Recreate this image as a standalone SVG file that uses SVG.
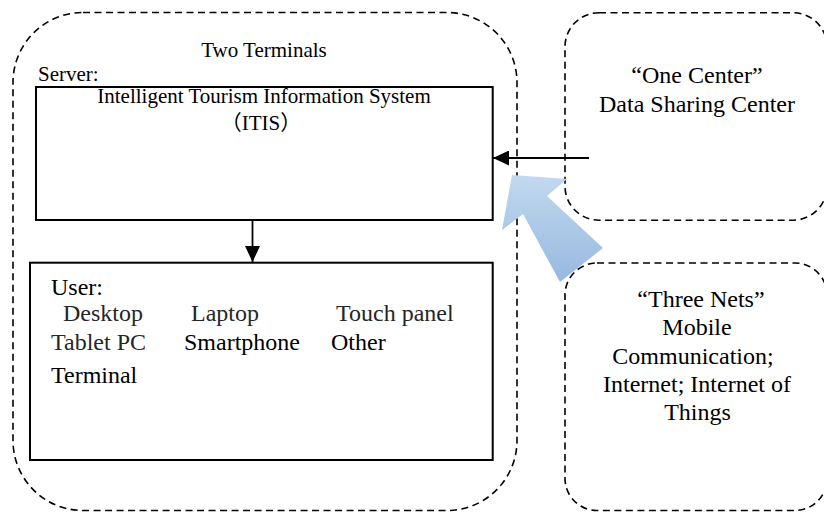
<svg xmlns="http://www.w3.org/2000/svg" width="824" height="514" viewBox="0 0 824 514">
  <style>
    .dash { fill: none; stroke: #000; stroke-width: 1.6; stroke-dasharray: 7 4.5; }
    .box { fill: #fff; stroke: #000; stroke-width: 2; }
    .t { font-family: "Liberation Serif", "Times New Roman", "Noto Sans CJK SC", serif; fill: #000; }
    .s21 { font-size: 21px; }
    .s24 { font-size: 24px; }
    .g { fill: #262626; }
    .conn { stroke: #000; stroke-width: 1.8; fill: none; }
  </style>
  <defs>
    <marker id="ah" viewBox="0 0 16 15" refX="16" refY="7.5" markerWidth="16" markerHeight="15" markerUnits="userSpaceOnUse" orient="auto">
      <path d="M0,0 L16,7.5 L0,15 Z" fill="#000"/>
    </marker>
    <linearGradient id="blue" x1="0" y1="0" x2="0" y2="1">
      <stop offset="0" stop-color="#c2d9ef"/>
      <stop offset="1" stop-color="#97b8df"/>
    </linearGradient>
  </defs>
  <rect width="824" height="514" fill="#fff"/>

  <g id="two-terminals">
    <rect class="dash" x="13" y="12.5" width="504" height="498" rx="70" ry="70"/>
    <text class="t s21" x="264" y="57" text-anchor="middle">Two Terminals</text>
  </g>

  <g id="server">
    <text class="t s21" x="38" y="81">Server:</text>
    <rect class="box" x="36" y="87" width="456.7" height="133"/>
    <text class="t s21" x="264" y="103" text-anchor="middle">Intelligent Tourism Information System</text>
    <text class="t s21" x="261" y="130" text-anchor="middle">（ITIS）</text>
  </g>

  <g id="user">
    <rect class="box" x="30" y="262.7" width="462.7" height="197.3"/>
    <text class="t s24" x="51" y="295">User:</text>
    <text class="t s24 g" x="63" y="321">Desktop</text>
    <text class="t s24 g" x="191" y="321">Laptop</text>
    <text class="t s24 g" x="336" y="321">Touch panel</text>
    <text class="t s24 g" x="51" y="349.5">Tablet PC</text>
    <text class="t s24" x="184" y="349.5">Smartphone</text>
    <text class="t s24" x="331" y="349.5">Other</text>
    <text class="t s24" x="51" y="382.5">Terminal</text>
  </g>

  <g id="one-center">
    <rect class="dash" x="565" y="12.7" width="262" height="207.5" rx="34" ry="34"/>
    <text class="t s24" x="697" y="82.7" text-anchor="middle">“One Center”</text>
    <text class="t s24" x="697" y="111.7" text-anchor="middle">Data Sharing Center</text>
  </g>

  <g id="three-nets">
    <rect class="dash" x="565" y="263" width="262" height="247.5" rx="32" ry="32"/>
    <text class="t s24" x="701" y="306.7" text-anchor="middle">“Three Nets”</text>
    <text class="t s24" x="697" y="335" text-anchor="middle">Mobile</text>
    <text class="t s24" x="693" y="364" text-anchor="middle">Communication;</text>
    <text class="t s24" x="697" y="391.7" text-anchor="middle">Internet; Internet of</text>
    <text class="t s24" x="697.5" y="420" text-anchor="middle">Things</text>
  </g>

  <g id="connectors">
    <line class="conn" x1="252.5" y1="220" x2="252.5" y2="262" marker-end="url(#ah)"/>
    <line class="conn" x1="589" y1="158" x2="493" y2="158" marker-end="url(#ah)"/>
    <polygon points="512,175 567,179 547,196 603,248 560,282 523,214 502,230" fill="url(#blue)"/>
  </g>
</svg>
